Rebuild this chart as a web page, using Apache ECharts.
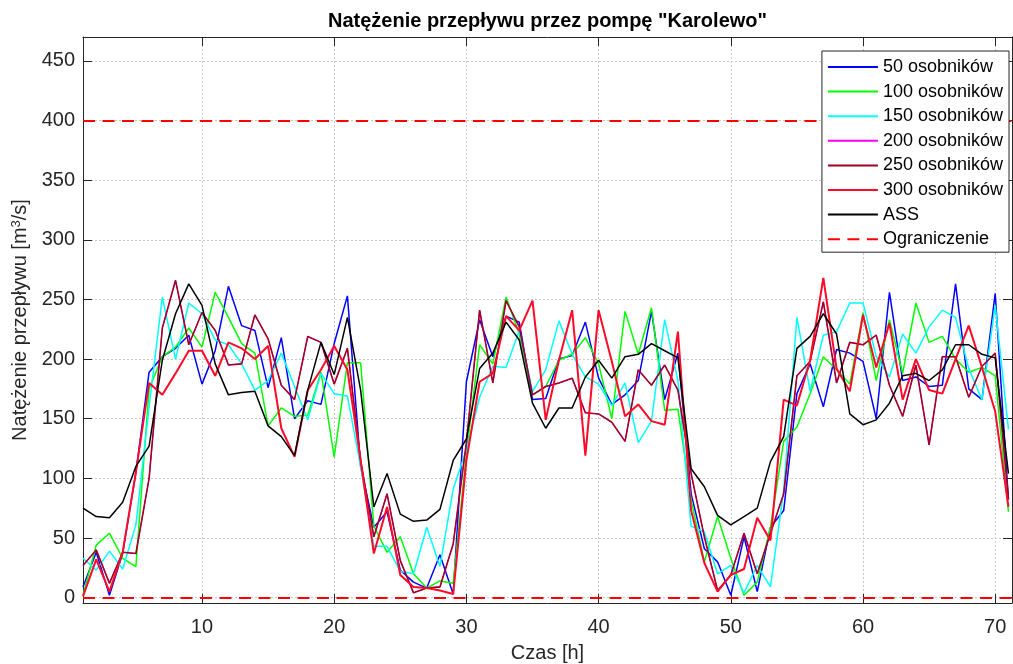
<!DOCTYPE html>
<html><head><meta charset="utf-8">
<script src="https://cdn.jsdelivr.net/npm/echarts@6/dist/echarts.min.js"></script>
<style>html,body{margin:0;padding:0;background:#fff}#c{width:1013px;height:664px}</style>
</head><body><div id="c"></div>
<script>
const hours = Array.from({length: 71}, (_, i) => i + 1);
const s50 = [9,38,2,37,105,189,202,209,220,179,207,261,228,224,176,218,150,165,162,213,253,110,59,72,23,13,8,36,3,181,233,202,236,231,166,167,200,203,231,184,162,170,182,240,166,205,87,41,30,2,51,5,59,73,171,196,160,208,205,198,150,256,182,185,177,178,263,175,166,255,82];
const s100 = [2,44,54,33,26,175,202,210,226,210,256,235,213,205,144,159,152,153,189,118,197,197,60,38,51,20,8,14,12,121,212,196,252,221,170,177,199,204,218,196,150,240,204,243,157,158,82,30,68,33,2,13,59,131,143,171,202,191,179,239,182,233,188,247,214,219,200,189,193,186,72];
const s150 = [33,23,39,24,61,160,252,200,247,238,216,212,196,174,182,205,177,149,188,171,169,110,43,43,22,20,59,26,91,124,168,194,193,224,173,191,232,204,185,179,161,180,130,148,233,182,60,55,20,27,4,27,9,90,235,173,220,223,247,247,202,185,221,205,227,241,235,192,166,245,141];
const s200 = [27,40,12,38,37,100,226,266,212,239,224,195,196,237,217,178,166,219,214,179,209,115,51,87,31,4,8,9,45,130,241,180,249,227,170,177,180,184,155,154,147,131,191,178,195,174,104,51,6,19,54,20,54,87,186,198,248,180,214,212,220,178,152,195,128,202,202,168,194,205,83];
const s250 = [27,40,12,38,37,100,226,266,212,239,224,195,196,237,217,178,166,219,214,179,209,115,51,87,31,4,8,9,45,130,241,180,249,227,170,177,180,184,155,154,147,131,191,178,195,174,104,51,6,19,54,20,54,87,186,198,248,180,214,212,220,178,152,195,128,202,202,168,194,205,83];
const s300 = [1,32,5,38,105,180,170,188,207,207,186,214,209,200,211,142,118,174,191,211,191,115,37,76,19,9,8,6,3,115,181,188,236,224,249,149,199,241,119,241,198,152,162,148,145,223,73,29,5,19,24,67,48,166,161,199,268,192,173,237,193,230,166,200,174,171,200,228,193,156,76];
const sASS = [75,68,67,80,110,127,199,238,263,245,196,170,172,173,144,135,119,174,214,187,235,174,76,104,70,64,65,74,115,133,192,205,231,216,163,142,159,159,185,199,184,202,204,213,207,201,108,93,69,61,68,75,114,135,209,219,238,221,154,145,149,163,186,188,182,191,212,212,204,201,104];
const limitValues = [0, 400];
const xTicks = [10, 20, 30, 40, 50, 60, 70];
const yTicks = [0, 50, 100, 150, 200, 250, 300, 350, 400, 450];
const seriesNames = ['50 osobników','100 osobników','150 osobników','200 osobników','250 osobników','300 osobników','ASS','Ograniczenie'];

const FONT = '"Liberation Sans", Arial, Helvetica, sans-serif';
const AX = '#262626';
const X_MIN = 1, X_MAX = 71.27, Y_MIN = -4.5, Y_MAX = 470;

function pairs(arr){ return arr.map((v, i) => [hours[i], v]); }
function mk(name, arr, color, width){
  return {name, type:'line', data: pairs(arr), symbol:'none', showSymbol:false,
    color, lineStyle:{color, width}, emphasis:{disabled:true}, silent:true, animation:false};
}
const gridLine = {show:true, lineStyle:{color:'#c8c8c8', width:1, type:[2,2]}};
const chart = echarts.init(document.getElementById('c'), null, {renderer:'canvas'});
chart.setOption({
  backgroundColor:'#ffffff',
  animation:false,
  textStyle:{fontFamily:FONT},
  graphic:[{type:'text', x:547.5, y:11, z:100,
    style:{text:'Natężenie przepływu przez pompę "Karolewo"', font:'bold 20px '+FONT, fill:'#000', textAlign:'center', textVerticalAlign:'top'}}],
  grid:{left:83, right:1, top:37, bottom:61, containLabel:false, outerBoundsMode:'none'},
  legend:{
    data: seriesNames, orient:'vertical', right:4, top:51,
    backgroundColor:'#ffffff', borderColor:AX, borderWidth:1, borderRadius:0,
    padding:[6,6,3,5], itemWidth:50, itemHeight:14, itemGap:4.6,
    itemStyle:{opacity:0},
    textStyle:{fontSize:18, color:'#000', fontFamily:FONT, lineHeight:20},
    selectedMode:false, z:50
  },
  xAxis:[{
    type:'value', min:X_MIN, max:X_MAX, position:'bottom',
    axisLine:{show:true, onZero:false, lineStyle:{color:AX, width:1}},
    axisTick:{show:true, inside:true, length:9, customValues:xTicks, lineStyle:{color:AX}},
    axisLabel:{show:true, customValues:xTicks, fontSize:20, color:AX, margin:14, fontFamily:FONT},
    splitLine:gridLine,
    name:'Czas [h]', nameLocation:'middle', nameGap:40,
    nameTextStyle:{fontSize:20, color:AX, fontFamily:FONT}
  },{
    type:'value', min:X_MIN, max:X_MAX, position:'top',
    axisLine:{show:true, onZero:false, lineStyle:{color:AX, width:1}},
    axisTick:{show:true, inside:true, length:9, customValues:xTicks, lineStyle:{color:AX}},
    axisLabel:{show:false}, splitLine:{show:false}
  }],
  yAxis:[{
    type:'value', min:Y_MIN, max:Y_MAX, position:'left',
    axisLine:{show:true, onZero:false, lineStyle:{color:AX, width:1}},
    axisTick:{show:true, inside:true, length:9, customValues:yTicks, lineStyle:{color:AX}},
    axisLabel:{show:true, customValues:yTicks, fontSize:20, color:AX, margin:8, fontFamily:FONT},
    splitLine:gridLine,
    name:'Natężenie przepływu [m{sup|3}/s]', nameLocation:'middle', nameGap:35, nameRotate:90,
    nameTextStyle:{fontSize:20, color:AX, fontFamily:FONT,
      rich:{sup:{fontSize:13, color:AX, fontFamily:FONT, verticalAlign:'bottom', padding:[0,0,9,0]}}}
  },{
    type:'value', min:Y_MIN, max:Y_MAX, position:'right',
    axisLine:{show:true, onZero:false, lineStyle:{color:AX, width:1}},
    axisTick:{show:true, inside:true, length:9, customValues:yTicks, lineStyle:{color:AX}},
    axisLabel:{show:false}, splitLine:{show:false}
  }],
  series:[
    mk('50 osobników', s50, '#0000ff', 1.5),
    mk('100 osobników', s100, '#00ff00', 1.5),
    mk('150 osobników', s150, '#00ffff', 1.5),
    mk('200 osobników', s200, '#ff00ff', 1),
    mk('250 osobników', s250, '#a00028', 1.6),
    mk('300 osobników', s300, '#ff0a28', 2),
    mk('ASS', sASS, '#000000', 1.5),
    {name:'Ograniczenie', type:'line', data:[], symbol:'none', color:'#ff0000',
     lineStyle:{color:'#ff0000', width:1.5, type:[12,7.5]}, animation:false,
     markLine:{symbol:['none','none'], silent:true, animation:false, label:{show:false},
       lineStyle:{color:'#ff0000', width:1.8, type:[12,7.5]},
       emphasis:{disabled:true},
       data: limitValues.map(v => ({yAxis:v}))}}
  ]
});
</script></body></html>
